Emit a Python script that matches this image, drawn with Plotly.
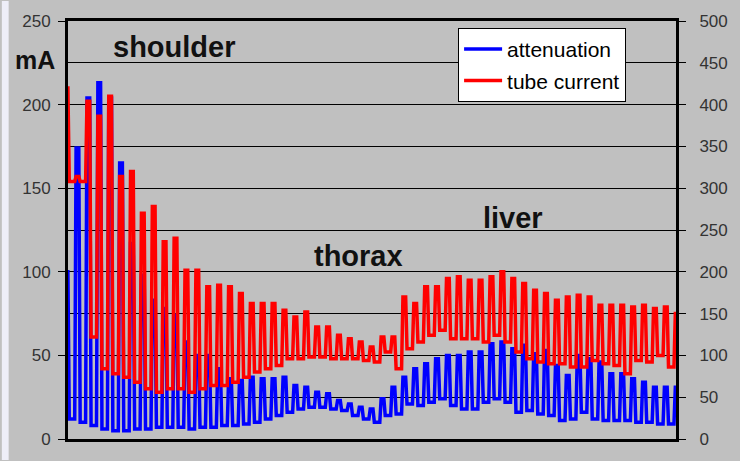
import plotly.graph_objects as go

# ---- data (values in mA units of the left axis), one entry per slice cycle ----
red_peaks = [210, 157, 202, 193, 205, 157, 160, 135, 139, 118, 120, 101, 101, 91, 92, 91, 87, 81, 81, 81,
             77, 73, 76, 67, 67, 62, 60, 58, 55, 61, 61, 85, 81, 91, 91, 96, 97, 95, 95, 97,
             100, 96, 93, 89, 87, 83, 85, 86, 85, 80, 80, 80, 79, 80, 78, 79, 75]
red_troughs = [154, 154, 61, 42, 39, 37, 34, 30, 28, 30, 30, 28, 30, 32, 32, 34, 37, 40, 42, 44,
               48, 48, 49, 49, 48, 48, 48, 47, 46, 52, 42, 54, 58, 62, 65, 60, 60, 60, 58, 62,
               58, 52, 48, 46, 45, 45, 43, 43, 47, 45, 44, 39, 47, 46, 50, 43, 50]
blue_peaks = [100, 174, 204, 213, 204, 165, 117, 98, 83, 78, 74, 58, 50, 50, 42, 36, 35, 37, 36, 36,
              37, 32, 31, 28, 27, 23, 21, 19, 18, 24, 31, 37, 42, 45, 48, 50, 50, 52, 52, 57,
              58, 54, 56, 51, 53, 44, 38, 50, 48, 46, 39, 39, 36, 34, 31, 31, 31]
blue_troughs = [12, 10, 8, 6, 5, 5, 6, 6, 7, 7, 7, 6, 7, 7, 8, 8, 9, 10, 12, 14,
                16, 18, 19, 19, 18, 17, 14, 12, 10, 14, 15, 21, 20, 22, 24, 20, 18, 18, 22, 24,
                22, 16, 17, 15, 14, 11, 12, 16, 12, 11, 11, 11, 10, 10, 9, 9, 10]

left_ticks = [0, 50, 100, 150, 200, 250]
left_minor = [25, 75, 125, 175, 225]
series_names = ["attenuation", "tube current"]
region_labels = ["shoulder", "thorax", "liver"]


def expand(peaks, troughs):
    # each rotation cycle: peak plateau then trough plateau
    out = []
    for p, t in zip(peaks, troughs):
        out += [p, p, p, t, t, t, t, t]
    return out


red = expand(red_peaks, red_troughs)
blue = expand(blue_peaks, blue_troughs)
xs = list(range(len(red)))

W, H = 740, 461
L, R, T, B = 68, 47, 20, 21
PW, PH = W - L - R, H - T - B


def px(x):
    return (x - L) / PW


def py(y):
    return (H - B - y) / PH


FONT = "Liberation Sans, Arial, sans-serif"

fig = go.Figure()
fig.add_trace(go.Scatter(x=xs, y=blue, mode="lines", name=series_names[0], legendgroup="a",
                         line=dict(color="#0000FF", width=3.5)))
fig.add_trace(go.Scatter(x=xs, y=red, mode="lines", name=series_names[1], legendgroup="b",
                         line=dict(color="#FF0000", width=3.5)))
fig.add_trace(go.Scatter(x=[None], y=[None], yaxis="y2", showlegend=False, hoverinfo="skip"))

fig.update_layout(
    width=W, height=H,
    margin=dict(l=L, r=R, t=T, b=B, pad=0),
    paper_bgcolor="#C0C0C0", plot_bgcolor="#C0C0C0",
    showlegend=True,
    legend=dict(x=px(469), y=py(27), xanchor="left", yanchor="top",
                bgcolor="white", bordercolor="black", borderwidth=1,
                font=dict(family=FONT, size=21, color="black"),
                tracegroupgap=1, itemwidth=38),
    xaxis=dict(range=[2.07, 448.5], showgrid=False, zeroline=False, showticklabels=False,
               ticks="", showline=True, linecolor="black", linewidth=3, mirror=True),
    yaxis=dict(range=[0, 250], tickvals=left_ticks, ticks="outside", ticklen=7, tickcolor="black",
               tickwidth=1, showgrid=True, gridcolor="black", gridwidth=1,
               minor=dict(tickvals=left_minor, showgrid=True, gridcolor="black", gridwidth=1, ticks=""),
               showline=True, linecolor="black", linewidth=3, zeroline=False,
               tickfont=dict(family=FONT, size=17, color="#333333"), ticklabelstandoff=4),
    yaxis2=dict(overlaying="y", side="right", range=[0, 500], dtick=50, ticks="outside", ticklen=7,
                tickcolor="black", showgrid=False, showline=True, linecolor="black", linewidth=3,
                zeroline=False, tickfont=dict(family=FONT, size=17, color="#333333"),
                ticklabelstandoff=10),
    shapes=[dict(type="rect", xref="paper", yref="paper", x0=px(0), x1=px(7), y0=py(461), y1=py(0),
                 fillcolor="#EEEEF8", line=dict(width=0), layer="below")],
)

ann_font = dict(family=FONT, size=29, color="#111111")
for text, x, y in [(region_labels[0], 177, 46), (region_labels[1], 367, 256), (region_labels[2], 525, 218)]:
    fig.add_annotation(text="<b>%s</b>" % text, xref="paper", yref="paper", x=px(x), y=py(y),
                       showarrow=False, font=ann_font, xanchor="center", yanchor="middle")
fig.add_annotation(text="<b>mA</b>", xref="paper", yref="paper", x=px(34), y=py(59),
                   showarrow=False, font=dict(family=FONT, size=25, color="#111111"),
                   xanchor="center", yanchor="middle")

fig.write_html("out.html", config={"displayModeBar": False},
               post_script="document.body.style.margin='0px';")
